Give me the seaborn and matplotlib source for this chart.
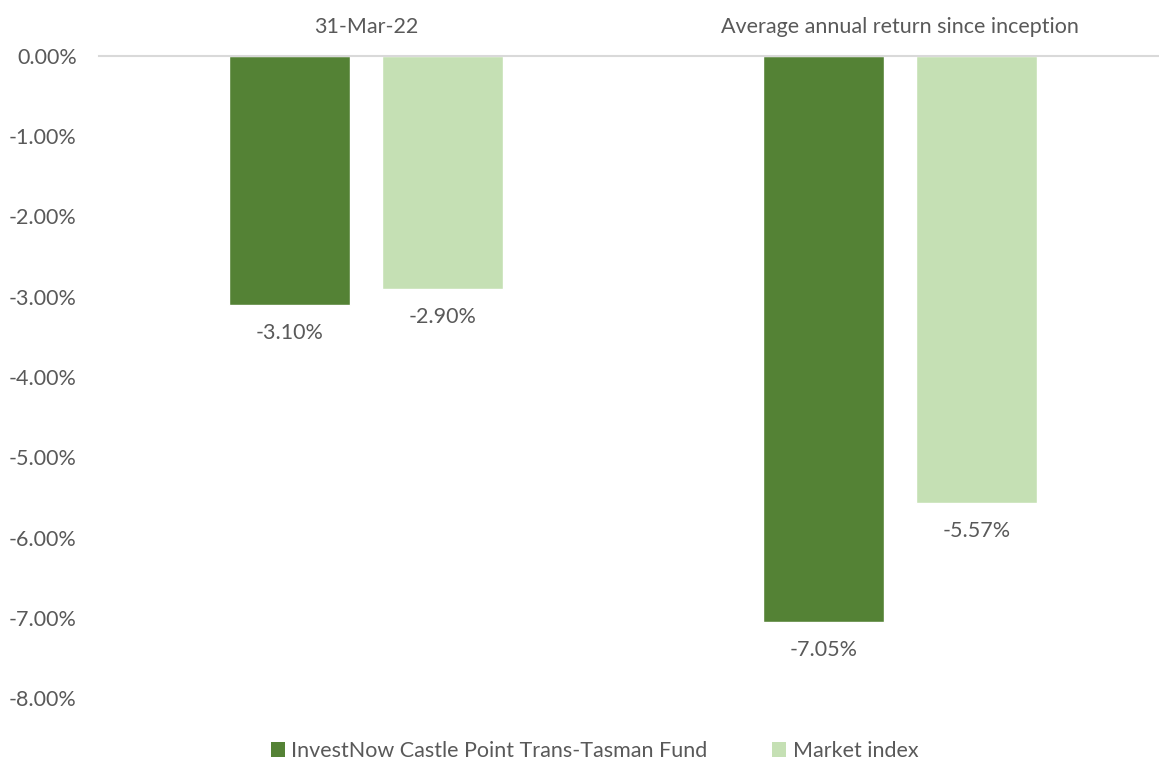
import matplotlib
matplotlib.use("Agg")
import matplotlib.pyplot as plt
import seaborn as sns
import pandas as pd
from matplotlib.patches import Patch

categories = ["31-Mar-22", "Average annual return since inception"]
series_names = ["InvestNow Castle Point Trans-Tasman Fund", "Market index"]
fund_values = [-3.10, -7.05]
index_values = [-2.90, -5.57]
y_ticks = [0, -1, -2, -3, -4, -5, -6, -7, -8]

colors = ["#548235", "#C5E0B4"]
text_color = "#595959"
fs = 15.5

sns.set_theme(style="white")
plt.rcParams["font.family"] = ["Lato", "DejaVu Sans"]

df = pd.DataFrame({
    "category": categories * 2,
    "series": [series_names[0]] * 2 + [series_names[1]] * 2,
    "value": fund_values + index_values,
})

fig = plt.figure(figsize=(11.59, 7.60), dpi=100)
ax = fig.add_axes([99 / 1159, 1 - 698 / 760, 1068 / 1159, (698 - 56) / 760])

sns.barplot(data=df, x="category", y="value", hue="series", order=categories,
            hue_order=series_names, palette=colors, width=0.572, gap=0.21,
            saturation=1, ax=ax, legend=False)

ax.set_ylim(-8, 0)
ax.set_xlim(-0.5, 1.5)
ax.set_yticks(y_ticks)
ax.set_yticklabels([f"{v:.2f}%" for v in y_ticks], fontsize=fs, color=text_color)
ax.xaxis.tick_top()
ax.set_xticks(range(len(categories)))
ax.set_xticklabels(categories, fontsize=fs, color=text_color)
ax.tick_params(axis="both", length=0)
ax.tick_params(axis="y", pad=16)
ax.tick_params(axis="x", pad=14)
ax.set_xlabel("")
ax.set_ylabel("")
for s in ["left", "right", "bottom"]:
    ax.spines[s].set_visible(False)
ax.spines["top"].set_color("#D9D9D9")
ax.spines["top"].set_linewidth(1.5)

for cont in ax.containers:
    ax.bar_label(cont, labels=[f"{v:.2f}%" for v in cont.datavalues],
                 padding=13, fontsize=fs, color=text_color)

handles = [Patch(facecolor=c, edgecolor="none") for c in colors]
fig.legend(handles, series_names, loc="lower center", bbox_to_anchor=(0.513, -0.027),
           ncol=2, frameon=False, fontsize=fs, handlelength=0.65, handleheight=0.65,
           handletextpad=0.3, columnspacing=3.0, labelcolor=text_color)

fig.savefig("out.png", dpi=100)
